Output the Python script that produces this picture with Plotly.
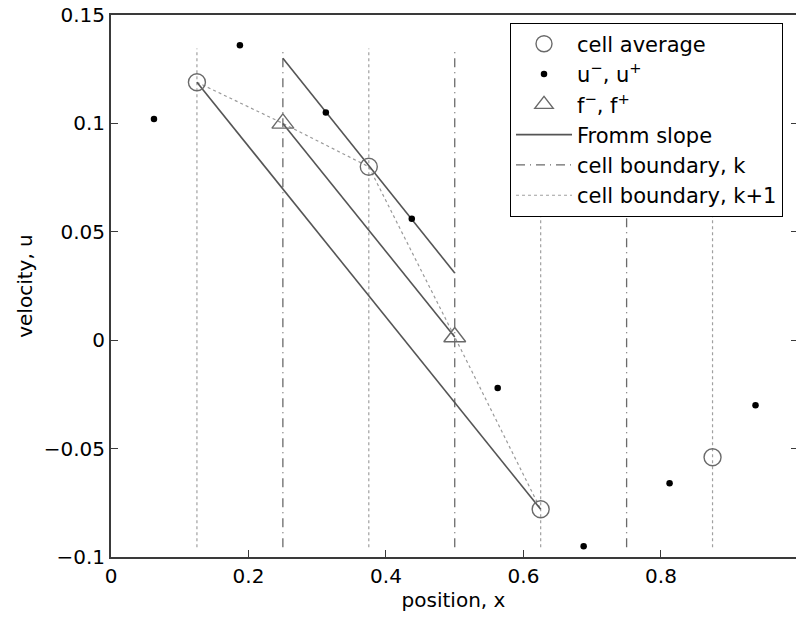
import plotly.graph_objects as go

# ---- data ----
cell_x = [0.125, 0.375, 0.625, 0.875]
cell_avg = [0.119, 0.080, -0.078, -0.054]

edge_x = [0.0625, 0.1875, 0.3125, 0.4375, 0.5625, 0.6875, 0.8125, 0.9375]
edge_u = [0.102, 0.136, 0.105, 0.056, -0.022, -0.095, -0.066, -0.030]

flux_x = [0.25, 0.5]
flux_f = [0.100, 0.0015]

# Fromm slope segments (start/end)
slope_x0 = [0.125, 0.25, 0.25]
slope_y0 = [0.119, 0.100, 0.130]
slope_x1 = [0.625, 0.5, 0.5]
slope_y1 = [-0.078, 0.0015, 0.031]

# dotted path linking averages and fluxes
path_x = [0.125, 0.25, 0.375, 0.5, 0.625]
path_y = [0.119, 0.100, 0.080, 0.0015, -0.078]

bound_k = [0.25, 0.5, 0.75]
bound_k1 = [0.125, 0.375, 0.625, 0.875]
bound_lo, bound_hi = -0.0955, 0.1345

xticks = [0, 0.2, 0.4, 0.6, 0.8]
xticktext = ["0", "0.2", "0.4", "0.6", "0.8"]
yticks = [-0.1, -0.05, 0, 0.05, 0.1, 0.15]
yticktext = ["\u22120.1", "\u22120.05", "0", "0.05", "0.1", "0.15"]

FONT = "DejaVu Sans"


def seg(xs0, ys0, xs1, ys1):
    X, Y = [], []
    for a, b, c, d in zip(xs0, ys0, xs1, ys1):
        X += [a, c, None]
        Y += [b, d, None]
    return X, Y


def vlines(xs):
    X, Y = [], []
    for x in xs:
        X += [x, x, None]
        Y += [bound_lo, bound_hi, None]
    return X, Y


fig = go.Figure()

# background dotted path (not in legend)
fig.add_trace(go.Scatter(x=path_x, y=path_y, mode="lines",
                         line=dict(color="#9a9a9a", width=1.2, dash="dot"),
                         showlegend=False, hoverinfo="skip"))

sx, sy = seg(slope_x0, slope_y0, slope_x1, slope_y1)
vkx, vky = vlines(bound_k)
vk1x, vk1y = vlines(bound_k1)

fig.add_trace(go.Scatter(x=vkx, y=vky, mode="lines", name="cell boundary, k",
                         line=dict(color="#6a6a6a", width=1.3, dash="9px,5px,1px,5px"),
                         legendgroup="e", legendrank=5))
fig.add_trace(go.Scatter(x=vk1x, y=vk1y, mode="lines", name="cell boundary, k+1",
                         line=dict(color="#a0a0a0", width=1.2, dash="dot"),
                         legendgroup="f", legendrank=6))
fig.add_trace(go.Scatter(x=sx, y=sy, mode="lines", name="Fromm slope",
                         line=dict(color="#555555", width=1.6),
                         legendgroup="d", legendrank=4))
fig.add_trace(go.Scatter(x=cell_x, y=cell_avg, mode="markers", name="cell average",
                         marker=dict(symbol="circle-open", size=17, color="#6a6a6a",
                                     line=dict(width=1.4, color="#6a6a6a")),
                         legendgroup="a", legendrank=1))
fig.add_trace(go.Scatter(x=edge_x, y=edge_u, mode="markers",
                         name="u<sup>\u2212</sup>, u<sup>+</sup>",
                         marker=dict(symbol="circle", size=6.5, color="black"),
                         legendgroup="b", legendrank=2))
fig.add_trace(go.Scatter(x=flux_x, y=flux_f, mode="markers",
                         name="f<sup>\u2212</sup>, f<sup>+</sup>",
                         marker=dict(symbol="triangle-up-open", size=19, color="#6a6a6a",
                                     line=dict(width=1.4, color="#6a6a6a")),
                         legendgroup="c", legendrank=3))

axis_common = dict(showline=True, linecolor="#3a3a3a", linewidth=2,
                   ticks="inside", ticklen=7, tickwidth=1.2, tickcolor="#3a3a3a",
                   showgrid=False, zeroline=False,
                   tickfont=dict(family=FONT, size=20, color="black"))

fig.update_layout(
    width=796, height=621,
    margin=dict(l=111, r=0, t=15, b=64, autoexpand=False),
    paper_bgcolor="white", plot_bgcolor="white",
    font=dict(family=FONT, size=20, color="black"),
    xaxis=dict(range=[0, 0.9964], tickvals=xticks, ticktext=xticktext,
               mirror=True,
               title=dict(text="position, x", font=dict(family=FONT, size=20), standoff=6),
               **axis_common),
    yaxis=dict(range=[-0.1, 0.15], tickvals=yticks, ticktext=yticktext, mirror=False,
               title=dict(text="velocity, u", font=dict(family=FONT, size=20), standoff=6),
               **axis_common),
    yaxis2=dict(range=[-0.1, 0.15], overlaying="y", side="right", anchor="x",
                tickvals=yticks, showticklabels=False, showline=False,
                ticks="inside", ticklen=5, tickwidth=1.2, tickcolor="#3a3a3a",
                showgrid=False, zeroline=False),
    legend=dict(x=0.5825, y=0.986, xanchor="left", yanchor="top",
                bgcolor="white", bordercolor="black", borderwidth=1,
                font=dict(family=FONT, size=21, color="black"),
                tracegroupgap=3, traceorder="normal", itemwidth=56,
                entrywidth=224),
    showlegend=True,
)

# invisible trace so the right-hand tick axis is drawn
fig.add_trace(go.Scatter(x=[0], y=[0], yaxis="y2", mode="markers",
                         marker=dict(opacity=0), showlegend=False, hoverinfo="skip"))

fig.write_html("out.html")
